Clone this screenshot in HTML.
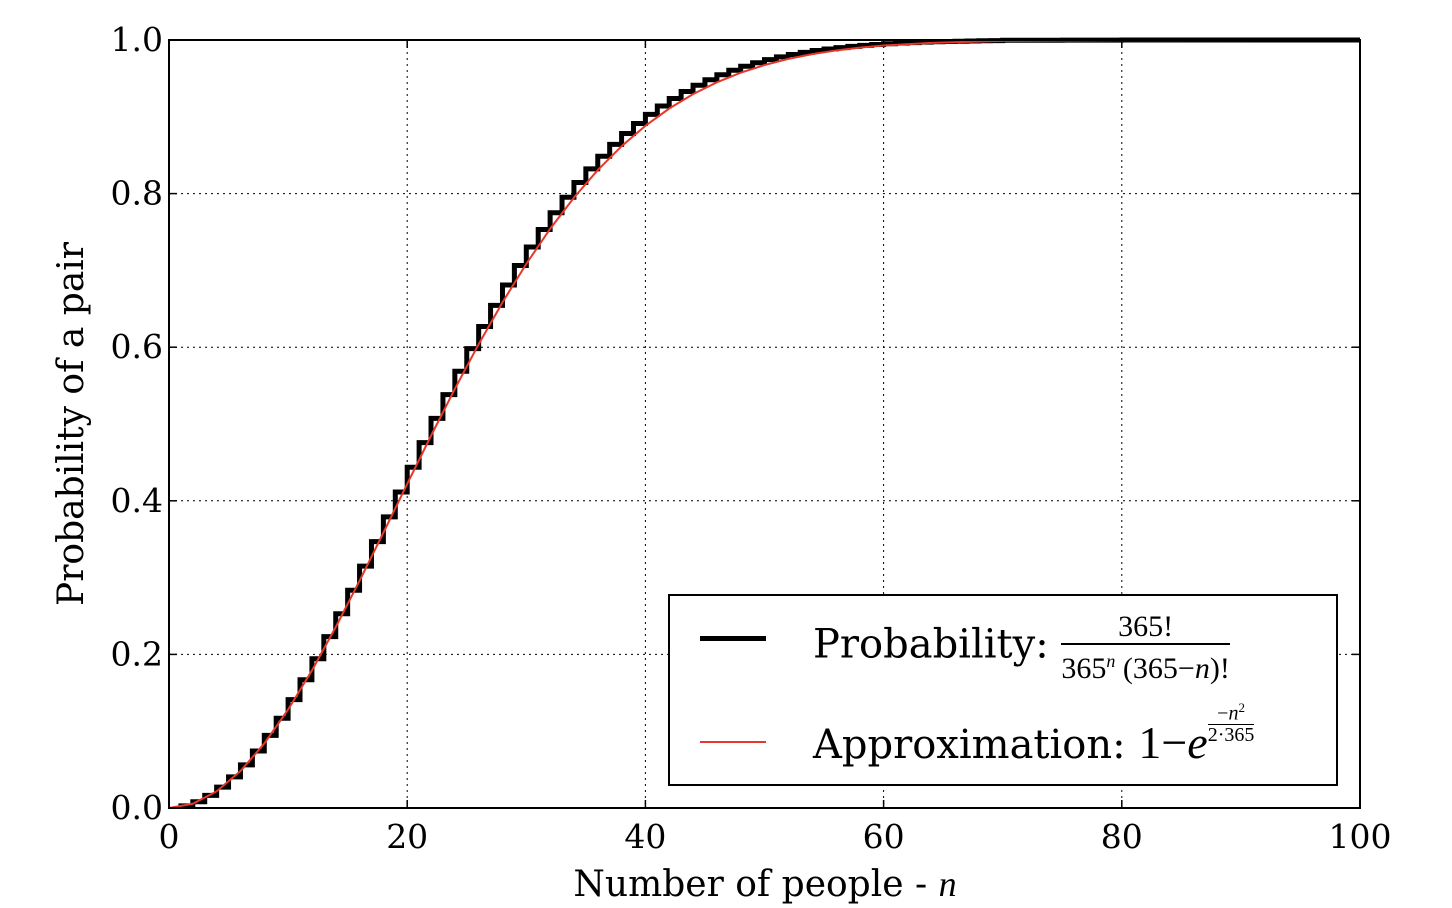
<!DOCTYPE html>
<html><head><meta charset="utf-8"><style>
body{margin:0;background:#fff;width:1452px;height:908px;overflow:hidden;font-family:"DejaVu Serif","Liberation Serif",serif;}
.lg{position:absolute;font-family:"DejaVu Serif","Liberation Serif",serif;color:#000;}
</style></head><body>
<svg id="chart" width="1452" height="908" style="position:absolute;left:0;top:0" font-family="DejaVu Serif, Liberation Serif, serif"></svg>
<div style="position:absolute;left:668px;top:594px;width:666px;height:188px;border:2px solid #000;background:#fff;">
  <div style="position:absolute;left:30px;top:40px;width:66px;height:5px;background:#000"></div>
  <div class="lg" style="left:143px;top:14px;font-size:40px;white-space:nowrap">Probability: <span style="display:inline-block;vertical-align:middle;text-align:center;font-size:30px;line-height:33px;font-family:'Liberation Serif',serif"><span style="display:block;border-bottom:2px solid #000;padding:0 4px">365!</span><span style="display:block">365<sup style="font-size:18px;font-style:italic">n</sup> (365−<i>n</i>)!</span></span></div>
  <div style="position:absolute;left:30px;top:145px;width:66px;height:2px;background:#e8372a"></div>
  <div class="lg" style="left:143px;top:120px;font-size:40px;white-space:nowrap">Approximation: <span style="font-family:'Liberation Serif',serif;font-size:46px">1−<i>e</i></span><span style="display:inline-block;vertical-align:top;text-align:center;font-size:20px;line-height:20px;position:relative;top:-18px;font-family:'Liberation Serif',serif"><span style="display:block;border-bottom:1px solid #000">−<i>n</i><sup style="font-size:13px">2</sup></span><span style="display:block">2·365</span></span></div>
</div>
<script>
const exactN=[1,2,3,4,5,6,7,8,9,10,11,12,13,14,15,16,17,18,19,20,21,22,23,24,25,26,27,28,29,30,31,32,33,34,35,36,37,38,39,40,41,42,43,44,45,46,47,48,49,50,51,52,53,54,55,56,57,58,59,60,61,62,63,64,65,66,67,68,69,70,75,80,90,100];
const exactP=[0,0.0027,0.0082,0.0164,0.0271,0.0405,0.0562,0.0743,0.0946,0.1169,0.1411,0.1670,0.1944,0.2231,0.2529,0.2836,0.3150,0.3469,0.3791,0.4114,0.4437,0.4757,0.5073,0.5383,0.5687,0.5982,0.6269,0.6545,0.6810,0.7063,0.7305,0.7533,0.7750,0.7953,0.8144,0.8322,0.8487,0.8641,0.8782,0.8912,0.9032,0.9140,0.9239,0.9329,0.9410,0.9483,0.9548,0.9606,0.9658,0.9704,0.9744,0.9780,0.9811,0.9839,0.9863,0.9883,0.9901,0.9917,0.9930,0.9941,0.9951,0.9959,0.9966,0.9972,0.9977,0.9981,0.9984,0.9987,0.9990,0.9992,0.9997,0.9999,1.0,1.0];
const approxN=[0,2,4,6,8,10,12,14,16,18,20,22,24,26,28,30,32,34,36,38,40,42,44,46,48,50,52,54,56,58,60,64,70,80,100];
const approxP=[0,0.0055,0.0217,0.0481,0.0839,0.1281,0.1790,0.2355,0.2958,0.3584,0.4219,0.4847,0.5457,0.6039,0.6584,0.7085,0.7541,0.7948,0.8306,0.8617,0.8883,0.9108,0.9295,0.9449,0.9574,0.9674,0.9754,0.9816,0.9864,0.9900,0.9928,0.9963,0.9988,0.9998,1.0];
const xTicks=[0,20,40,60,80,100];
const yTicks=[0,0.2,0.4,0.6,0.8,1.0];
const yTickLabels=["0.0","0.2","0.4","0.6","0.8","1.0"];

const L=169,R=1360,T=40,B=808;
const xs=v=>L+(v/100)*(R-L), ys=v=>B-v*(B-T);
const svg=document.getElementById('chart');
const NS='http://www.w3.org/2000/svg';
function mk(tag,attrs,parent){const e=document.createElementNS(NS,tag);for(const k in attrs)e.setAttribute(k,attrs[k]);(parent||svg).appendChild(e);return e;}

xTicks.forEach((t,i)=>{
  const x=xs(t);
  if(t>0&&t<100){const g=mk('line',{x1:x,x2:x,y1:T,y2:B,stroke:'#000','stroke-width':1,'stroke-dasharray':'2,4'});
  
  }
  mk('line',{x1:x,x2:x,y1:B,y2:B-8,stroke:'#000','stroke-width':1.5});
  mk('line',{x1:x,x2:x,y1:T,y2:T+8,stroke:'#000','stroke-width':1.5});
  const tx=mk('text',{x:x,y:B+40,'text-anchor':'middle','font-size':33});
  tx.textContent=t;
  
  
});
yTicks.forEach((t,i)=>{
  const y=ys(t);
  if(t>0&&t<1){const g=mk('line',{x1:L,x2:R,y1:y,y2:y,stroke:'#000','stroke-width':1,'stroke-dasharray':'2,4'});
  
  }
  mk('line',{x1:L,x2:L+8,y1:y,y2:y,stroke:'#000','stroke-width':1.5});
  mk('line',{x1:R,x2:R-8,y1:y,y2:y,stroke:'#000','stroke-width':1.5});
  const tx=mk('text',{x:L-6,y:y+11,'text-anchor':'end','font-size':33});
  tx.textContent=yTickLabels[i];
  
  
});

let d='M'+xs(exactN[0])+','+ys(exactP[0]);
for(let i=1;i<exactN.length;i++){d+=' L'+xs(exactN[i-1])+','+ys(exactP[i])+' L'+xs(exactN[i])+','+ys(exactP[i]);}
const st=mk('path',{d:d,fill:'none',stroke:'#000','stroke-width':5,'stroke-linejoin':'miter'});



let d2='';
approxN.forEach((n,i)=>{d2+=(i?' L':'M')+xs(n)+','+ys(approxP[i]);});
const ap=mk('path',{d:d2,fill:'none',stroke:'#e8372a','stroke-width':2});



const fr=mk('rect',{x:L,y:T,width:R-L,height:B-T,fill:'none',stroke:'#000','stroke-width':2});



const xl=mk('text',{x:765,y:896,'text-anchor':'middle','font-size':36});
xl.innerHTML='Number of people - <tspan font-style="italic" font-family="Liberation Serif, serif">n</tspan>';


const yl=mk('text',{x:0,y:0,'text-anchor':'middle','font-size':36,transform:'translate(83,424) rotate(-90)'});
yl.textContent='Probability of a pair';


</script>
</body></html>
